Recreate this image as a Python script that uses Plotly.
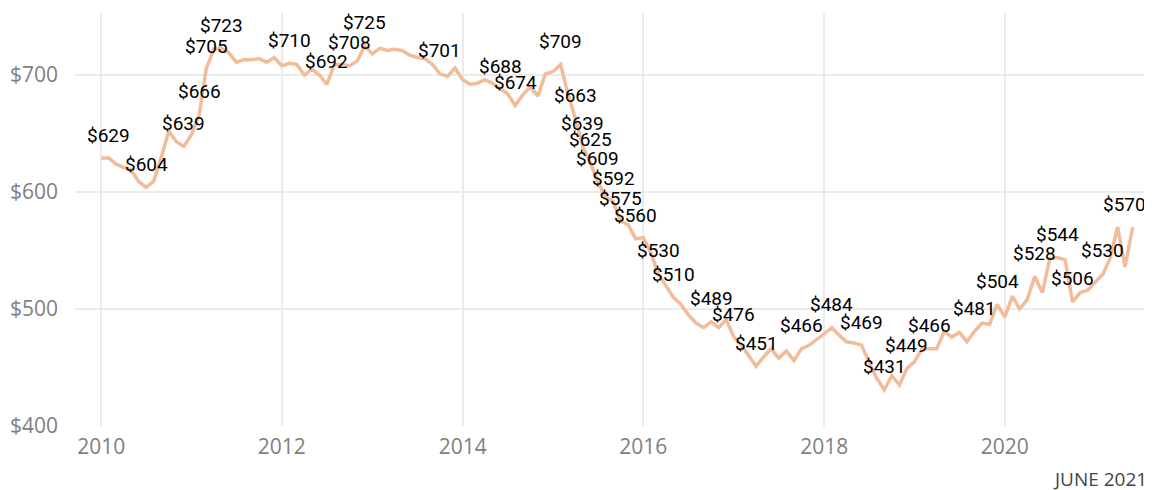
import pandas as pd
import plotly.graph_objects as go

# Monthly average values, Jan 2010 .. Jun 2021
PRICES_2010 = [629, 629, 624, 621, 619, 609, 604, 609, 630, 652, 643, 639]
PRICES_2011 = [649, 666, 705, 722, 723, 719, 711, 713, 713, 714, 711, 715]
PRICES_2012 = [708, 710, 709, 700, 705, 700, 692, 709, 709, 708, 712, 725]
PRICES_2013 = [718, 723, 721, 722, 721, 717, 715, 714, 709, 701, 699, 706]
PRICES_2014 = [696, 692, 693, 696, 693, 688, 684, 674, 683, 690, 682, 701]
PRICES_2015 = [703, 709, 685, 663, 639, 625, 609, 596, 592, 575, 572, 560]
PRICES_2016 = [561, 548, 530, 520, 510, 504, 495, 488, 484, 489, 484, 491]
PRICES_2017 = [476, 469, 461, 451, 459, 466, 458, 464, 456, 466, 469, 474]
PRICES_2018 = [479, 484, 478, 472, 471, 469, 455, 441, 431, 443, 435, 449]
PRICES_2019 = [455, 466, 466, 466, 481, 476, 480, 472, 481, 488, 487, 504]
PRICES_2020 = [493, 511, 500, 508, 528, 514, 543, 544, 542, 506, 514, 516]
PRICES_2021 = [523, 530, 543, 570, 536, 570]

# months (index from Jan 2010) that carry a data label
LABELED_MONTHS = [1, 6, 11, 13, 14, 16, 25, 30, 33, 35, 45, 53, 55, 61, 63, 64,
                  65, 66, 68, 69, 71, 74, 76, 81, 84, 87, 93, 97, 101, 104, 107,
                  110, 116, 119, 124, 127, 129, 133, 137]

Y_TICKS = [400, 500, 600, 700]
FOOTNOTE = "JUNE 2021"

# styling
LINE_COLOR = "#F2BC9A"
GRID_COLOR = "#EBEBEB"
TICK_COLOR = "#7F7F7F"
LABEL_NUDGE = {137: -8}  # keep last label inside the plot area

prices = (PRICES_2010 + PRICES_2011 + PRICES_2012 + PRICES_2013 + PRICES_2014
          + PRICES_2015 + PRICES_2016 + PRICES_2017 + PRICES_2018
          + PRICES_2019 + PRICES_2020 + PRICES_2021)
months = pd.date_range("2010-01-01", periods=len(prices), freq="MS")

fig = go.Figure()
fig.add_trace(
    go.Scatter(
        x=months,
        y=prices,
        mode="lines",
        line=dict(color=LINE_COLOR, width=3.5),
        hoverinfo="x+y",
        showlegend=False,
    )
)

for i in LABELED_MONTHS:
    fig.add_annotation(
        x=months[i],
        y=prices[i],
        text=f"${prices[i]}",
        showarrow=False,
        yanchor="middle",
        yshift=23,
        xshift=LABEL_NUDGE.get(i, 0),
        font=dict(family="Roboto", size=19, color="#000000"),
    )

fig.add_annotation(
    xref="paper", yref="paper", x=1, y=0,
    xanchor="right", yanchor="top", yshift=-38, xshift=-1,
    text=FOOTNOTE, showarrow=False,
    font=dict(family="Open Sans", size=19, color="#444444"),
)

# page body has an 8px margin, so the figure is sized to fit the window
fig.update_layout(
    width=1144,
    height=482,
    margin=dict(l=67, r=2, t=5, b=64),
    paper_bgcolor="white",
    plot_bgcolor="white",
    font=dict(family="Open Sans", size=21, color=TICK_COLOR),
    xaxis=dict(
        range=["2009-09-17", "2021-08-10"],
        tick0="2010-01-01",
        dtick="M24",
        tickformat="%Y",
        showgrid=True,
        gridcolor=GRID_COLOR,
        gridwidth=2,
        zeroline=False,
        showline=False,
        ticks="",
        automargin=False,
        ticklabelstandoff=6,
    ),
    yaxis=dict(
        range=[400, 753],
        tickvals=Y_TICKS,
        ticktext=[f"${v}" for v in Y_TICKS],
        showgrid=True,
        gridcolor=GRID_COLOR,
        gridwidth=2,
        zeroline=False,
        showline=False,
        ticks="",
        automargin=False,
        ticklabelstandoff=16,
    ),
)

fig.write_html("out.html")
